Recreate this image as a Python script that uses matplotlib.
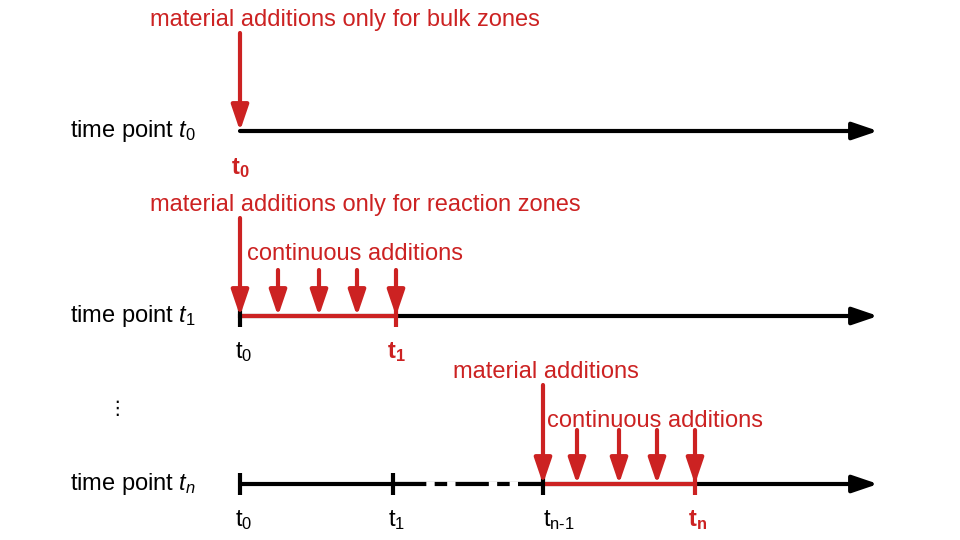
import matplotlib.pyplot as plt
from matplotlib.patches import FancyArrowPatch

plt.rcParams['font.family'] = 'Liberation Sans'
plt.rcParams['mathtext.fontset'] = 'custom'
plt.rcParams['mathtext.rm'] = 'Liberation Sans'
plt.rcParams['mathtext.it'] = 'Liberation Sans:italic'
plt.rcParams['mathtext.bf'] = 'Liberation Sans:bold'

RED = '#cc2222'
row_labels = [r'time point $\mathit{t}_{\mathit{0}}$', r'time point $\mathit{t}_{\mathit{1}}$',
              r'time point $\mathit{t}_{\mathit{n}}$']
row_y = [131, 316, 484]
small_arrows_1 = [278, 319, 357, 396]
small_arrows_n = [577, 619, 657, 695]
ticks_n = [240, 393, 543]
tick_labels_n = [r'$\mathregular{t_0}$', r'$\mathregular{t_1}$', r'$\mathregular{t_{n\text{-}1}}$']

FS = 17

fig = plt.figure(figsize=(9.6, 5.4), dpi=100)
ax = fig.add_axes([0, 0, 1, 1])
ax.set_xlim(0, 960)
ax.set_ylim(540, 0)
ax.axis('off')


def timeline(y):
    ax.add_patch(FancyArrowPatch((240, y), (878, y), arrowstyle='-|>,head_length=2.2,head_width=0.75',
                                 mutation_scale=7, color='black', lw=3, shrinkA=0, shrinkB=0))


def down(x, y0, y1):
    ax.add_patch(FancyArrowPatch((x, y0), (x, y1), arrowstyle='-|>,head_length=2.2,head_width=0.75',
                                 mutation_scale=7, color=RED, lw=3, shrinkA=0, shrinkB=0, zorder=5))


def tick(x, y, c='black'):
    ax.plot([x, x], [y - 11, y + 11], color=c, lw=3, solid_capstyle='butt', zorder=4)


for lab, y in zip(row_labels, row_y):
    ax.text(70, y, lab, fontsize=FS, va='center', ha='left')
    timeline(y)

# row 0
down(240, 33, 131)
ax.text(240, 168, r'$\mathbf{t_0}$', color=RED, fontsize=FS, ha='center', va='center')
ax.text(150, 20, 'material additions only for bulk zones', color=RED, fontsize=FS, va='center')

# row 1
y = row_y[1]
ax.plot([240, 396], [y, y], color=RED, lw=3, zorder=3)
tick(240, y)
tick(396, y, RED)
down(240, 218, y)
for x in small_arrows_1:
    down(x, 270, y)
ax.text(150, 205, 'material additions only for reaction zones', color=RED, fontsize=FS, va='center')
ax.text(247, 254, 'continuous additions', color=RED, fontsize=FS, va='center')
ax.text(244, 352, r'$\mathregular{t_0}$', fontsize=FS, ha='center', va='center')
ax.text(396, 352, r'$\mathbf{t_1}$', color=RED, fontsize=FS, ha='center', va='center')

# row n
y = row_y[2]
ax.text(117, 408, '\u22ee', fontsize=14, ha='center', va='center', family='DejaVu Sans')
ax.add_patch(plt.Rectangle((392, y - 2), 152, 4, color='white', zorder=2))
ax.plot([393, 543], [y, y], color='black', lw=3, dashes=(8, 2, 3, 2), zorder=3)
ax.plot([543, 695], [y, y], color=RED, lw=3, zorder=3)
for x, lab in zip(ticks_n, tick_labels_n):
    tick(x, y)
    ax.text(x + 4 + (12 if 'n' in lab else 0), 520, lab, fontsize=FS, ha='center', va='center')
tick(695, y, RED)
ax.text(698, 520, r'$\mathbf{t_n}$', color=RED, fontsize=FS, ha='center', va='center')
down(543, 385, y)
for x in small_arrows_n:
    down(x, 430, y)
ax.text(453, 372, 'material additions', color=RED, fontsize=FS, va='center')
ax.text(547, 421, 'continuous additions', color=RED, fontsize=FS, va='center')

fig.savefig('out.png', dpi=100)
